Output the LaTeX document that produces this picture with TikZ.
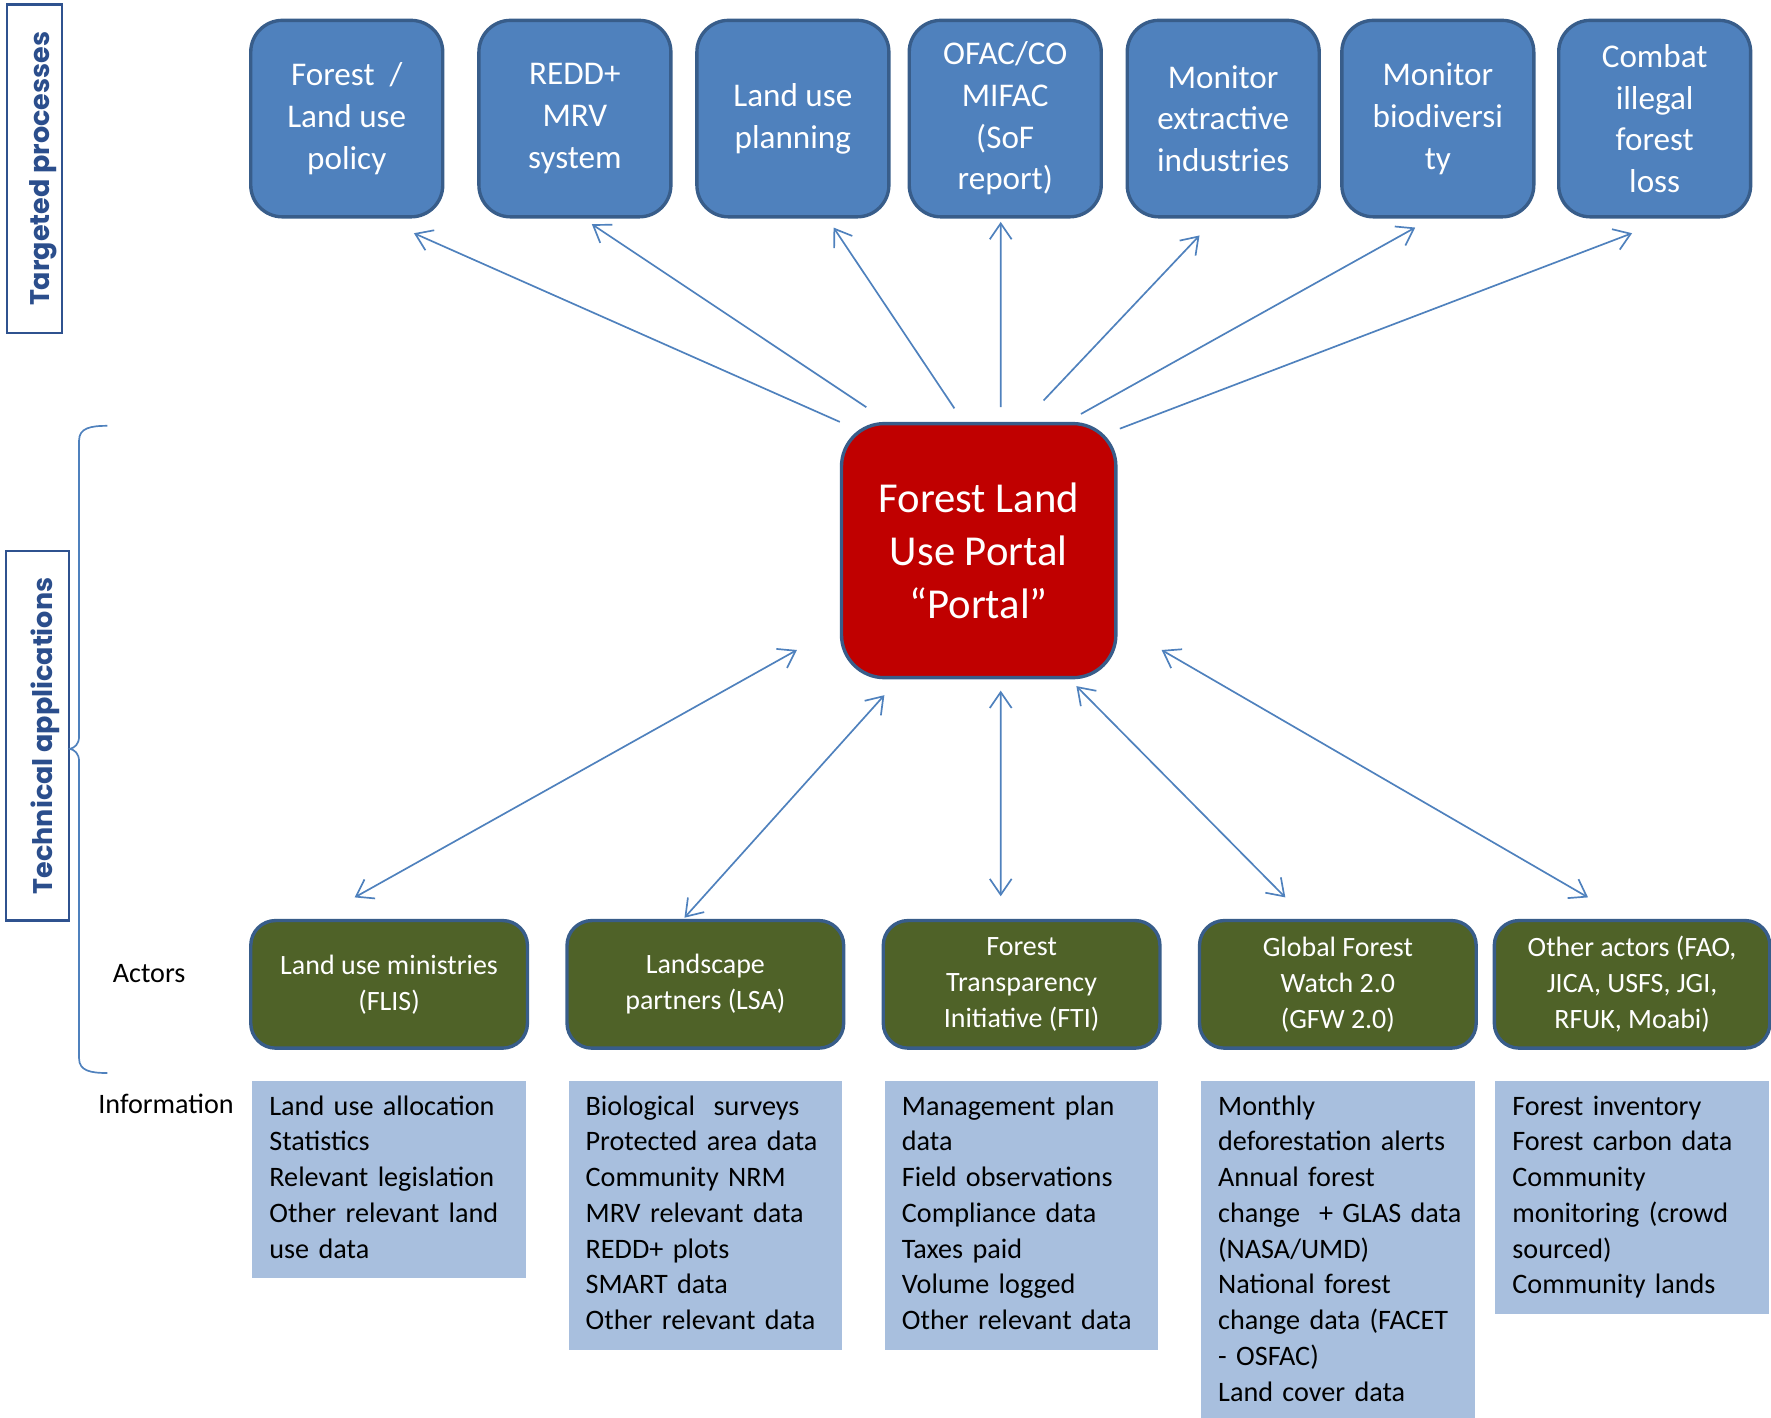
\documentclass[tikz,border=0pt]{standalone}
\usepackage{fontspec}
\setmainfont{Carlito}
\newfontfamily\sidefont{Poppins}
\usepackage{xcolor}
\usetikzlibrary{positioning,calc,arrows.meta}

\definecolor{procblue}{HTML}{4F81BD}
\definecolor{edgeblue}{HTML}{385D8A}
\definecolor{portalred}{HTML}{C00000}
\definecolor{actgreen}{HTML}{4F6228}
\definecolor{infoblue}{HTML}{A8BFDE}
\definecolor{sidetext}{HTML}{2B4E8C}
\definecolor{sideedge}{HTML}{2F528F}

\begin{document}
\begin{tikzpicture}[
    x=0.02cm, y=-0.02cm,
    process/.style={draw=edgeblue, line width=1.7pt, fill=procblue, rounded corners=0.56cm, minimum width=3.4cm, minimum height=3.48cm, align=center, text=white, font=\fontsize{16.7}{21}\selectfont, execute at begin node=\rule{0pt}{19pt}},
    portalbox/.style={draw=edgeblue, line width=1.7pt, fill=portalred, rounded corners=0.76cm, minimum width=4.86cm, minimum height=4.5cm, align=center, text=white, font=\fontsize{21.5}{26.7}\selectfont},
    actor/.style={draw=edgeblue, line width=1.7pt, fill=actgreen, rounded corners=0.44cm, minimum width=4.9cm, minimum height=2.26cm, align=center, text=white, font=\fontsize{14.1}{18.2}\selectfont},
    infobox/.style={fill=infoblue, text width=4.24cm, inner xsep=0.3cm, inner ysep=4.8pt, align=left, font=\fontsize{14.2}{18}\selectfont, execute at begin node=\strut, execute at end node=\strut},
    sidebox/.style={draw=sideedge, line width=1.1pt, rotate=90, text=sidetext, inner sep=0pt, text height=19pt, font=\sidefont\bfseries\fontsize{13.6}{16}\selectfont},
    rowlabel/.style={font=\fontsize{14.2}{18}\selectfont},
    arrow/.style={-{Straight Barb[length=8pt,width=11pt]}, draw=procblue, line width=0.85pt},
    twoway/.style={arrow, {Straight Barb[length=8pt,width=11pt]}-{Straight Barb[length=8pt,width=11pt]}}
]
\useasboundingbox (0,0) rectangle (1568,1255);

% side labels
\node[sidebox, minimum width=5.82cm, minimum height=0.98cm] (targeted) at (30.5,149.5) {Targeted processes};
\node[sidebox, minimum width=6.54cm, minimum height=1.12cm] (technical) at (33,651.5) {Technical applications};
\draw[procblue, line width=0.85pt] (95,377) .. controls (80,377) and (70,379) .. (70,390) -- (70,652)
    .. controls (70,659) and (66,662) .. (62,663) .. controls (66,664) and (70,667) .. (70,674) -- (70,937)
    .. controls (70,948) and (80,950) .. (95,950);

% targeted processes
\node[process] (tp1) at (307,105) {Forest\ \ /\\Land use\\policy};
\node[process] (tp2) at (509,105) {REDD+\\MRV\\system};
\node[process] (tp3) at (702,105) {Land use\\planning};
\node[process] (tp4) at (890,105) {OFAC/CO\\MIFAC\\(SoF\\report)};
\node[process] (tp5) at (1083,105) {Monitor\\extractive\\industries};
\node[process] (tp6) at (1273,105) {Monitor\\biodiversi\\ty};
\node[process] (tp7) at (1465,105) {Combat\\illegal\\forest\\loss};

% portal
\node[portalbox] (portal) at (866.5,487.5) {Forest Land\\Use Portal\\``Portal''};

% actors
\node[rowlabel] (actlab) at (132,862) {Actors};
\node[actor] (act1) at (344.5,871.5) {Land use ministries\\(FLIS)};
\node[actor] (act2) at (624.5,871.5) {Landscape\\partners (LSA)};
\node[actor] (act3) at (904.5,871.5) {Forest\\Transparency\\Initiative (FTI)};
\node[actor] (act4) at (1184.5,871.5) {Global Forest\\Watch 2.0\\(GFW 2.0)};
\node[actor, minimum width=4.88cm] (act5) at (1445,871.5) {Other actors (FAO,\\JICA, USFS, JGI,\\RFUK, Moabi)};

% information
\node[rowlabel] (infolab) at (147,977) {Information};
\node[infobox, below=0.54cm of act1] (info1) {Land use allocation\\Statistics\\Relevant legislation\\Other relevant land\\use data};
\node[infobox, below=0.54cm of act2] (info2) {Biological\ \ surveys\\Protected area data\\Community NRM\\MRV relevant data\\REDD+ plots\\SMART data\\Other relevant data};
\node[infobox, below=0.54cm of act3] (info3) {Management plan\\data\\Field observations\\Compliance data\\Taxes paid\\Volume logged\\Other relevant data};
\node[infobox, below=0.54cm of act4] (info4) {Monthly\\deforestation alerts\\Annual forest\\\mbox{change\ \ + GLAS data}\\(NASA/UMD)\\National forest\\change data (FACET\\- OSFAC)\\Land cover data};
\node[infobox, below=0.54cm of act5] (info5) {Forest inventory\\Forest carbon data\\Community\\monitoring (crowd\\sourced)\\Community lands};

% portal feeds the processes
\draw[arrow] (portal.north west) -- ($(tp1.south east)+(-27,13)$);
\draw[arrow] ($(portal.north)+(-99.5,-13)$) -- ($(tp2.south)+(15,5)$);
\draw[arrow] ($(portal.north)+(-21.5,-12)$) -- ($(tp3.south)+(36,8)$);
\draw[arrow] ($(portal.north)+(19.5,-13)$) -- ($(tp4.south)+(-4,3)$);
\draw[arrow] ($(portal.north)+(57.5,-19)$) -- ($(tp5.south)+(-21,15)$);
\draw[arrow] ($(portal.north)+(90.5,-7)$) -- ($(tp6.south)+(-20,8)$);
\draw[arrow] ($(portal.north east)+(2,6)$) -- ($(tp7.south)+(-20,13)$);

% actors exchange with the portal
\draw[twoway] ($(portal.south west)+(-38,-26)$) -- ($(act1.north)+(-30.5,-19)$);
\draw[twoway] ($(portal.south)+(-83.5,14)$) -- ($(act2.north)+(-18.5,-1)$);
\draw[twoway] ($(portal.south)+(19.5,10)$) -- ($(act3.north)+(-18.5,-20)$);
\draw[twoway] ($(portal.south)+(86.5,6)$) -- ($(act4.north)+(-46.5,-19)$);
\draw[twoway] ($(portal.south east)+(39,-26)$) -- ($(act5.north)+(-39,-19)$);

\end{tikzpicture}
\end{document}
